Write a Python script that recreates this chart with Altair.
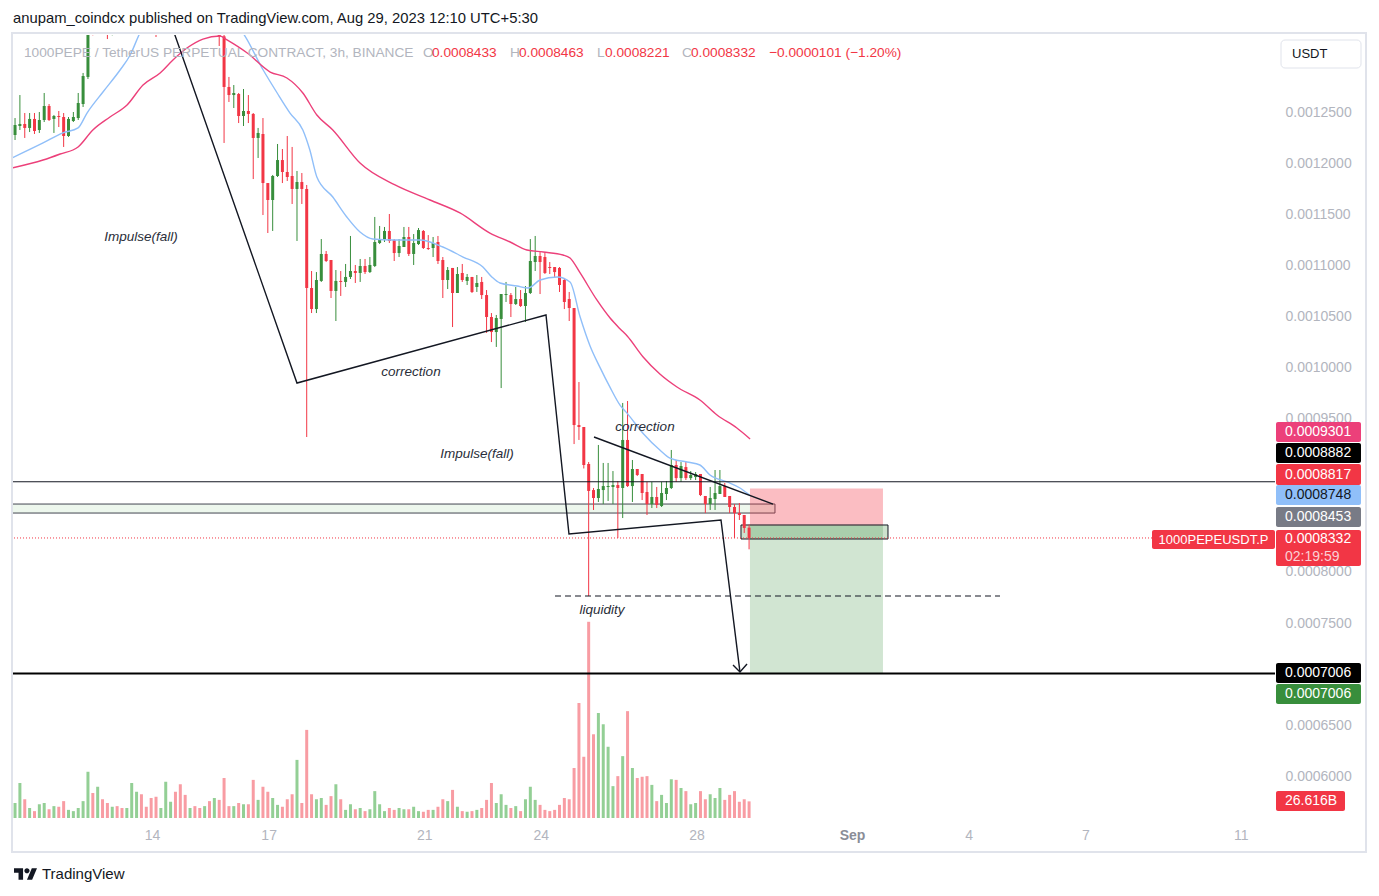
import altair as alt
import numpy as np
import pandas as pd

# ---------------- data: prices in units of 1e-7 USDT, 3h candles ----------------
open_e7 = [12275, 12363, 12383, 12344, 12432, 12324, 12422, 12559, 12432, 12461,
           12451, 12265, 12412, 12441, 12578, 12843, 13450, 13330, 13620, 13450,
           13300, 13420, 13350, 13310, 13400, 13780, 14000, 13760, 13680, 13480,
           13380, 13460, 13820, 13920, 13700, 13450, 13360, 13440, 13380, 13340,
           13460, 13350, 13470, 13240, 12745, 12666, 12676, 12461, 12510, 12481,
           12246, 12285, 11805, 11639, 11874, 12030, 11913, 11874, 11747, 11815,
           11747, 10778, 10572, 10847, 11111, 11052, 10749, 10847, 10837, 10886,
           10944, 10925, 10993, 10934, 10993, 11218, 11257, 11336, 11248, 11120,
           11179, 11277, 11111, 11208, 11336, 11169, 11169, 11228, 11052, 10856,
           10974, 10729, 10925, 10847, 10886, 10788, 10837, 10709, 10494, 10347,
           10475, 10709, 10709, 10621, 10670, 10602, 10729, 11032, 11091, 11081,
           10983, 10983, 10974, 10856, 10670, 10582, 9437, 9418, 9056, 8801,
           8723, 8801, 8831, 8831, 8850, 8821, 9291, 8840, 9007, 8958,
           8782, 8664, 8733, 8645, 8762, 8821, 9046, 8918, 9026, 8918,
           8928, 8958, 8743, 8664, 8713, 8762, 8840, 8743, 8635, 8576,
           8557, 8433]
high_e7 = [12441, 12666, 12490, 12490, 12490, 12500, 12686, 12578, 12471, 12510,
           12490, 12451, 12500, 12686, 12882, 13520, 13560, 13700, 13720, 13520,
           13480, 13500, 13420, 13450, 13850, 14100, 14080, 13820, 13740, 13560,
           13500, 13900, 13980, 14000, 13760, 13540, 13480, 13500, 13460, 13500,
           13520, 13520, 13520, 13300, 12843, 12764, 12686, 12725, 12666, 12490,
           12344, 12441, 11805, 11884, 12187, 12138, 12265, 12158, 11923, 11903,
           11786, 10944, 10934, 11257, 11140, 11052, 10954, 10944, 11013, 11287,
           11003, 11062, 11062, 11081, 11473, 11385, 11375, 11502, 11257, 11257,
           11375, 11375, 11306, 11365, 11345, 11296, 11277, 11287, 11081, 10983,
           10974, 10983, 11013, 10915, 10886, 10905, 10886, 10758, 10533, 10514,
           10719, 10837, 10729, 10788, 10758, 10797, 11257, 11287, 11130, 11130,
           11032, 10983, 10983, 10876, 10739, 10582, 9858, 9418, 9075, 8821,
           9242, 9066, 9066, 8987, 8889, 9653, 9672, 9095, 9007, 8958,
           8880, 8880, 8831, 8880, 8889, 9193, 9095, 9075, 9075, 8987,
           8977, 8958, 8743, 8831, 8997, 8997, 8870, 8743, 8664, 8674,
           8557, 8463]
low_e7 = [12226, 12324, 12246, 12304, 12285, 12295, 12402, 12412, 12295, 12353,
          12158, 12256, 12402, 12422, 12549, 12823, 13250, 13260, 13380, 13214,
          13250, 13280, 13270, 13290, 13380, 13700, 13700, 13640, 13400, 13234,
          13330, 13420, 13760, 13650, 13380, 13290, 13300, 13320, 13300, 13290,
          13300, 13300, 13146, 12197, 12598, 12539, 12392, 12363, 12392, 11844,
          12050, 11492, 11316, 11336, 11864, 11805, 11825, 11600, 11238, 11600,
          9320, 10533, 10533, 10837, 11032, 10680, 10455, 10700, 10788, 10866,
          10827, 10837, 10915, 10925, 10983, 11208, 11228, 11218, 11042, 11081,
          11179, 11091, 11003, 11199, 11160, 11150, 11081, 11013, 10680, 10768,
          10396, 10729, 10837, 10807, 10729, 10739, 10670, 10338, 10249, 10201,
          9799, 10641, 10494, 10612, 10592, 10445, 10719, 10944, 10719, 10915,
          10915, 10886, 10739, 10572, 10455, 9251, 9291, 9012, 7764, 8606,
          8684, 8664, 8694, 8664, 8332, 8527, 8831, 8684, 8938, 8703,
          8557, 8625, 8625, 8635, 8703, 8811, 8880, 8880, 8899, 8899,
          8899, 8742, 8576, 8606, 8606, 8762, 8733, 8576, 8332, 8508,
          8381, 8221]
close_e7 = [12373, 12383, 12344, 12432, 12314, 12422, 12559, 12422, 12461, 12451,
            12265, 12432, 12451, 12588, 12852, 13450, 13330, 13620, 13450, 13300,
            13420, 13350, 13310, 13400, 13780, 14000, 13760, 13680, 13480, 13380,
            13460, 13820, 13920, 13700, 13450, 13360, 13440, 13380, 13340, 13460,
            13350, 13470, 13240, 12745, 12666, 12686, 12461, 12510, 12481, 12246,
            12295, 11805, 11639, 11874, 12030, 11913, 11864, 11747, 11815, 11747,
            10778, 10572, 10856, 11111, 11042, 10749, 10847, 10837, 10886, 10944,
            10925, 10993, 10934, 11003, 11228, 11257, 11336, 11238, 11120, 11189,
            11277, 11111, 11218, 11345, 11169, 11160, 11218, 11042, 10856, 10954,
            10729, 10915, 10856, 10886, 10739, 10827, 10709, 10494, 10347, 10484,
            10719, 10719, 10621, 10670, 10602, 10729, 11042, 11091, 11032, 10925,
            10974, 10934, 10807, 10641, 10582, 9437, 9418, 9046, 8792, 8723,
            8811, 8840, 8840, 8850, 8821, 9291, 8840, 9007, 8948, 8772,
            8664, 8733, 8655, 8772, 8821, 9046, 8918, 9036, 8918, 8948,
            8958, 8752, 8664, 8723, 8772, 8840, 8733, 8635, 8576, 8557,
            8430, 8332]
# volume in billions (B)
volume_b = [24, 56, 30, 16, 11, 22, 24, 14, 19, 18,
            27, 13, 11, 16, 27, 74, 40, 50, 30, 24,
            18, 19, 16, 16, 56, 42, 38, 18, 32, 34,
            16, 58, 26, 42, 54, 37, 16, 19, 16, 19,
            27, 32, 29, 64, 19, 19, 24, 22, 22, 61,
            29, 50, 42, 32, 21, 18, 30, 38, 93, 24,
            141, 38, 30, 32, 21, 35, 54, 30, 13, 22,
            14, 16, 11, 14, 43, 22, 11, 16, 13, 16,
            14, 14, 18, 11, 10, 13, 13, 18, 30, 27,
            45, 18, 11, 10, 11, 13, 16, 29, 56, 24,
            38, 21, 16, 19, 11, 30, 50, 29, 21, 13,
            11, 13, 21, 32, 30, 80, 184, 98, 314, 134,
            168, 150, 114, 51, 67, 99, 171, 80, 64, 66,
            67, 53, 27, 37, 24, 62, 61, 48, 43, 22,
            24, 43, 30, 38, 32, 48, 29, 37, 43, 26,
            30, 26.616]

# moving averages (x in day-of-August, price e7)
ema_fast_t = [10.40, 11.20, 11.71, 12.10, 12.33, 12.74, 13.18, 13.44, 13.69, 14.20,
              14.90, 15.50, 15.90, 16.34, 16.86, 17.22, 17.55, 17.88, 18.06, 18.24,
              18.65, 19.01, 19.35, 19.68, 20.20, 20.89, 21.48, 22.00, 22.51, 22.74,
              22.95, 23.39, 23.67, 23.98, 24.42, 24.75, 25.01, 25.26, 25.52, 25.78,
              26.04, 26.22, 26.63, 27.06, 27.32, 27.76, 28.09, 28.35, 28.79, 29.12, 29.38]
ema_fast_p = [12050, 12197, 12295, 12344, 12490, 12696, 12911, 13058, 13273, 13560,
              13680, 13620, 13450, 13273, 12911, 12686, 12490, 12324, 12128, 11864,
              11668, 11473, 11326, 11257, 11248, 11248, 11179, 11081, 10983, 10886,
              10827, 10797, 10778, 10856, 10886, 10837, 10494, 10216, 10001, 9805,
              9629, 9551, 9355, 9193, 9114, 9075, 9046, 8948, 8880, 8821, 8748]
ema_slow_t = [10.40, 11.20, 11.64, 12.10, 12.48, 12.92, 13.36, 13.77, 14.21, 14.54,
              14.90, 15.31, 15.75, 15.93, 16.45, 17.04, 17.47, 17.88, 18.24, 18.65,
              19.35, 20.25, 21.15, 21.92, 22.69, 23.21, 23.64, 24.06, 24.57, 24.75,
              25.01, 25.44, 25.78, 26.04, 26.22, 26.63, 27.06, 27.50, 28.09, 28.53,
              29.04, 29.38]
ema_slow_p = [11952, 12030, 12089, 12158, 12324, 12451, 12569, 12764, 12882, 13009,
              13126, 13214, 13244, 13205, 13077, 12891, 12833, 12686, 12471, 12324,
              12001, 11786, 11639, 11512, 11316, 11228, 11150, 11130, 11101, 11071,
              10925, 10661, 10484, 10377, 10308, 10103, 9936, 9809, 9682, 9535,
              9408, 9301]

# drawings (day, price e7)
path_t = [14.464, 17.729, 24.132, 24.723, 28.632, 29.120]
path_p = [13390, 9848, 10514, 8371, 8508, 7020]
arrow_t = [28.941, 29.120, 29.301]
arrow_p = [7089, 7020, 7099]
wedge_t = [25.366, 29.97]
wedge_p = [9320, 8664]
liq_t = [24.364, 35.806]
liq_p = [7764, 7764]
zone_t = [10.0, 30.02]
zone_p = [8576, 8664]
entry_rect_t = [29.146, 32.926]
entry_rect_p = [8322, 8459]
pos_t = [29.377, 32.797]
stop_level = 8817
entry_level = 8453
target_level = 7006
resist_level = 8882
notes = ["Impulse(fall)", "correction", "Impulse(fall)", "correction", "liquidity"]
notes_t = [13.718, 20.661, 22.357, 26.678, 25.572]
notes_p = [11277, 9956, 9154, 9418, 7627]
countdown = "02:19:59"
day_ticks = [14, 17, 21, 24, 28, 32, 35, 38, 42]
# 0.00085 and 0.0009 are hidden behind the price tags in the picture
price_ticks = [0.0006, 0.00065, 0.0007, 0.00075, 0.0008, 0.00095,
               0.001, 0.00105, 0.0011, 0.00115, 0.0012, 0.00125]

U = 1e-7
GREEN, RED = "#388e3c", "#f23645"
VGREEN, VRED = "#93cf95", "#f89ca3"
BLUE, PINK = "#90bff9", "#ec407a"
GREY = "#b2b5be"
FONT = "Liberation Sans"

# ---------------- frames ----------------
n = len(open_e7)
times = pd.date_range("2023-08-10 11:30", periods=n, freq="3h")
t = ((times - pd.Timestamp("2023-08-01")) / pd.Timedelta(days=1) + 1).to_numpy()
o = np.array(open_e7, float); c = np.array(close_e7, float)
lo = np.minimum(o, c); hi = np.maximum(o, c)
mid = (lo + hi) / 2
small = (hi - lo) < 10
lo = np.where(small, mid - 5, lo); hi = np.where(small, mid + 5, hi)
up = c >= o
cdf = pd.DataFrame({
    "t": t, "low": np.array(low_e7) * U, "high": np.array(high_e7) * U,
    "blo": lo * U, "bhi": hi * U,
    "col": np.where(up, GREEN, RED), "vcol": np.where(up, VGREEN, VRED),
    "vol": volume_b,
})

W, H = 1262, 783
OX, OY = 13, 35
XMIN, XMAX = (13 + 392.5) / 38.89, (1275 + 392.5) / 38.89
YMIN, YMAX = 5592 * U, 13253.5 * U

xscale = alt.Scale(domain=[XMIN, XMAX], nice=False, zero=False, padding=0)
yscale = alt.Scale(domain=[YMIN, YMAX], nice=False, zero=False, padding=0)
xaxis = alt.Axis(values=day_ticks, title=None, grid=False, ticks=False, domain=False,
                 labelExpr="datum.value == 32 ? 'Sep' : datum.value > 32 ? '' + (datum.value - 31) : '' + datum.value",
                 labelFont=FONT, labelFontSize=14, labelPadding=10, labelBaseline="top",
                 labelColor={"condition": {"test": "datum.value == 32", "value": "#8a8d97"}, "value": GREY},
                 labelFontWeight={"condition": {"test": "datum.value == 32", "value": "bold"}, "value": "normal"},
                 labelFlush=False, labelOverlap=False)
yaxis = alt.Axis(orient="right", values=price_ticks, format=".7f", title=None, grid=False,
                 ticks=False, tickSize=0, domain=False, labelFont=FONT, labelFontSize=14,
                 labelColor=GREY, labelPadding=10, labelAlign="left", labelFlush=False,
                 labelOverlap=False)


def X(f):
    return alt.X(f, type="quantitative", scale=xscale, axis=xaxis)


def Y(f):
    return alt.Y(f, type="quantitative", scale=yscale, axis=yaxis)


def pts(ts, ps, grp="a"):
    return pd.DataFrame({"t": ts, "p": np.array(ps) * U, "g": grp, "i": range(len(ts))})


# volume
vol_chart = alt.Chart(cdf).mark_bar(size=3, clip=True).encode(
    x=X("t"),
    y=alt.Y("vol:Q", scale=alt.Scale(domain=[0, 1253], nice=False, padding=0), axis=None),
    color=alt.Color("vcol:N", scale=None),
)

layers = []
# zones
zone = pd.DataFrame({"t1": [zone_t[0]], "t2": [zone_t[1]], "p1": [zone_p[0] * U], "p2": [zone_p[1] * U]})
layers.append(alt.Chart(zone).mark_rect(fill="#4caf50", fillOpacity=0.1, stroke="#434651",
                                        strokeWidth=1, clip=True).encode(
    x=X("t1"), x2="t2", y=Y("p1"), y2="p2"))
risk = pd.DataFrame({"t1": [pos_t[0]], "t2": [pos_t[1]], "p1": [entry_level * U], "p2": [stop_level * U]})
layers.append(alt.Chart(risk).mark_rect(fill=RED, fillOpacity=0.33).encode(
    x=X("t1"), x2="t2", y=Y("p1"), y2="p2"))
targ = pd.DataFrame({"t1": [pos_t[0]], "t2": [pos_t[1]], "p1": [target_level * U], "p2": [entry_level * U]})
layers.append(alt.Chart(targ).mark_rect(fill=GREEN, fillOpacity=0.23).encode(
    x=X("t1"), x2="t2", y=Y("p1"), y2="p2"))
ent = pd.DataFrame({"t1": [entry_rect_t[0]], "t2": [entry_rect_t[1]],
                    "p1": [entry_rect_p[0] * U], "p2": [entry_rect_p[1] * U]})
layers.append(alt.Chart(ent).mark_rect(fill=GREEN, fillOpacity=0.25, stroke="#131722",
                                       strokeWidth=1).encode(
    x=X("t1"), x2="t2", y=Y("p1"), y2="p2"))

# candles
layers.append(alt.Chart(cdf).mark_rule(strokeWidth=1, clip=True).encode(
    x=X("t"), y=Y("low"), y2="high", color=alt.Color("col:N", scale=None)))
layers.append(alt.Chart(cdf).mark_bar(size=3, clip=True).encode(
    x=X("t"), y=Y("blo"), y2="bhi", color=alt.Color("col:N", scale=None)))

# EMAs
layers.append(alt.Chart(pts(ema_fast_t, ema_fast_p)).mark_line(color=BLUE, strokeWidth=1.4, clip=True,
                                                               interpolate="monotone").encode(
    x=X("t"), y=Y("p"), order="i:Q"))
layers.append(alt.Chart(pts(ema_slow_t, ema_slow_p)).mark_line(color=PINK, strokeWidth=1.4, clip=True,
                                                               interpolate="monotone").encode(
    x=X("t"), y=Y("p"), order="i:Q"))

# horizontal levels
lv = lambda v: pd.DataFrame({"p": [v * U]})
layers.append(alt.Chart(lv(resist_level)).mark_rule(color="#131722", strokeWidth=1).encode(y=Y("p")))
layers.append(alt.Chart(lv(target_level)).mark_rule(color="#000000", strokeWidth=2).encode(y=Y("p")))
layers.append(alt.Chart(lv(close_e7[-1])).mark_rule(color=RED, strokeWidth=1, strokeDash=[1, 2]).encode(y=Y("p")))
layers.append(alt.Chart(pts(liq_t, liq_p)).mark_line(color="#131722", strokeWidth=1.2, strokeDash=[6, 4]).encode(
    x=X("t"), y=Y("p"), order="i:Q"))

# drawings
draw = pd.concat([pts(path_t, path_p, "path"), pts(arrow_t, arrow_p, "arrow"), pts(wedge_t, wedge_p, "wedge")])
layers.append(alt.Chart(draw).mark_line(color="#131722", strokeWidth=1.4, clip=True).encode(
    x=X("t"), y=Y("p"), detail="g:N", order="i:Q"))

# notes
ndf = pd.DataFrame({"t": notes_t, "p": np.array(notes_p) * U, "txt": notes})
layers.append(alt.Chart(ndf).mark_text(font=FONT, fontSize=13.5, fontStyle="italic", color="#2a2e39").encode(
    x=X("t"), y=Y("p"), text="txt:N"))

# ---------------- page furniture (pixel placed) ----------------
fmt = lambda v: f"{v * U:.7f}"
boxes = pd.DataFrame([
    (1276, 1361, 422, 442, PINK),
    (1276, 1361, 443, 463, "#000000"),
    (1276, 1361, 464, 485, RED),
    (1276, 1361, 485, 505, BLUE),
    (1276, 1361, 507, 527, "#787b86"),
    (1276, 1361, 530, 566, RED),
    (1152, 1275, 530, 549, RED),
    (1276, 1361, 663, 683, "#000000"),
    (1276, 1361, 684, 704, GREEN),
    (1276, 1345, 791, 811, RED),
], columns=["ax1", "ax2", "ay1", "ay2", "fill"])
boxes["px1"] = boxes.ax1 - OX; boxes["px2"] = boxes.ax2 - OX
boxes["py1"] = boxes.ay1 - OY; boxes["py2"] = boxes.ay2 - OY

chg = close_e7[-1] - open_e7[-1]
pct = chg / open_e7[-1] * 100
chg_txt = f"{'−' if chg < 0 else '+'}{abs(chg) * U:.7f} ({'−' if chg < 0 else '+'}{abs(pct):.2f}%)"
texts = pd.DataFrame([
    (13, 19, "anupam_coindcx published on TradingView.com, Aug 29, 2023 12:10 UTC+5:30", "#131722", 14.8),
    (24, 53, "1000PEPE / TetherUS PERPETUAL CONTRACT, 3h, BINANCE", GREY, 13.7),
    (423, 53, "O", GREY, 13.7), (432, 53, fmt(open_e7[-1]), RED, 13.7),
    (510, 53, "H", GREY, 13.7), (519, 53, fmt(high_e7[-1]), RED, 13.7),
    (597, 53, "L", GREY, 13.7), (605, 53, fmt(low_e7[-1]), RED, 13.7),
    (682, 53, "C", GREY, 13.7), (691, 53, fmt(close_e7[-1]), RED, 13.7),
    (769, 53, chg_txt, RED, 13.7),
    (1292, 54, "USDT", "#131722", 13),
    (1285, 432, fmt(ema_slow_p[-1]), "#ffffff", 14),
    (1285, 453, fmt(resist_level), "#ffffff", 14),
    (1285, 474.5, fmt(stop_level), "#ffffff", 14),
    (1285, 495, fmt(ema_fast_p[-1]), "#131722", 14),
    (1285, 517, fmt(entry_level), "#ffffff", 14),
    (1285, 539, fmt(close_e7[-1]), "#ffffff", 14),
    (1285, 557, countdown, "#fbd0d4", 14),
    (1285, 673, fmt(target_level), "#ffffff", 14),
    (1285, 694, fmt(target_level), "#ffffff", 14),
    (1285, 801, f"{volume_b[-1]:.3f}B", "#ffffff", 14),
    (42, 874, "TradingView", "#131722", 15),
], columns=["ax", "ay", "txt", "col", "fs"])
texts["px"] = texts.ax - OX; texts["py"] = texts.ay - OY
ctexts = pd.DataFrame({"px": [1213.5 - OX], "py": [539.5 - OY], "txt": ["1000PEPEUSDT.P"]})

frame = pd.DataFrame({"px1": [12 - OX], "px2": [1366 - OX], "py1": [33 - OY], "py2": [852 - OY]})
usdt = pd.DataFrame({"px1": [1281 - OX], "px2": [1361 - OX], "py1": [40 - OY], "py2": [68 - OY]})
logo = pd.DataFrame({"px": [25.5 - OX], "py": [874 - OY]})
LOGO = ("M-0.211,0.507L-0.606,0.507L-0.606,-0.113L-1,-0.113L-1,-0.507L-0.211,-0.507Z"
        "M-0.098,-0.282A0.225,0.225,0,1,0,0.352,-0.282A0.225,0.225,0,1,0,-0.098,-0.282Z"
        "M0.577,0.507L0.127,0.507L0.549,-0.507L1,-0.507Z")

PX = lambda f: alt.X(f, type="quantitative", scale=None, axis=None)
PY = lambda f: alt.Y(f, type="quantitative", scale=None, axis=None)

layers.append(alt.Chart(frame).mark_rect(fill=None, stroke="#e0e3eb", strokeWidth=2).encode(
    x=PX("px1"), x2="px2", y=PY("py1"), y2="py2"))
layers.append(alt.Chart(usdt).mark_rect(fill="#ffffff", stroke="#e0e3eb", strokeWidth=1, cornerRadius=4).encode(
    x=PX("px1"), x2="px2", y=PY("py1"), y2="py2"))
layers.append(alt.Chart(boxes).mark_rect(cornerRadius=2).encode(
    x=PX("px1"), x2="px2", y=PY("py1"), y2="py2", color=alt.Color("fill:N", scale=None)))
layers.append(alt.Chart(texts).mark_text(font=FONT, align="left", baseline="middle").encode(
    x=PX("px"), y=PY("py"), text="txt:N", color=alt.Color("col:N", scale=None),
    size=alt.Size("fs:Q", scale=None)))
layers.append(alt.Chart(ctexts).mark_text(font=FONT, align="center", baseline="middle", fontSize=13,
                                          color="#ffffff").encode(
    x=PX("px"), y=PY("py"), text="txt:N"))
layers.append(alt.Chart(logo).mark_point(shape=LOGO, size=529, filled=True, color="#131722", opacity=1).encode(
    x=PX("px"), y=PY("py")))

price_group = alt.layer(*layers)
chart = alt.layer(vol_chart, price_group).resolve_scale(y="independent").properties(
    width=W, height=H,
    autosize=alt.AutoSizeParams(type="none"),
    padding={"left": OX - 8, "top": OY - 8, "right": 96, "bottom": 70},
    background="#ffffff",
).configure_view(stroke=None)

chart.save("out.html", embed_options={"renderer": "svg", "actions": False})
